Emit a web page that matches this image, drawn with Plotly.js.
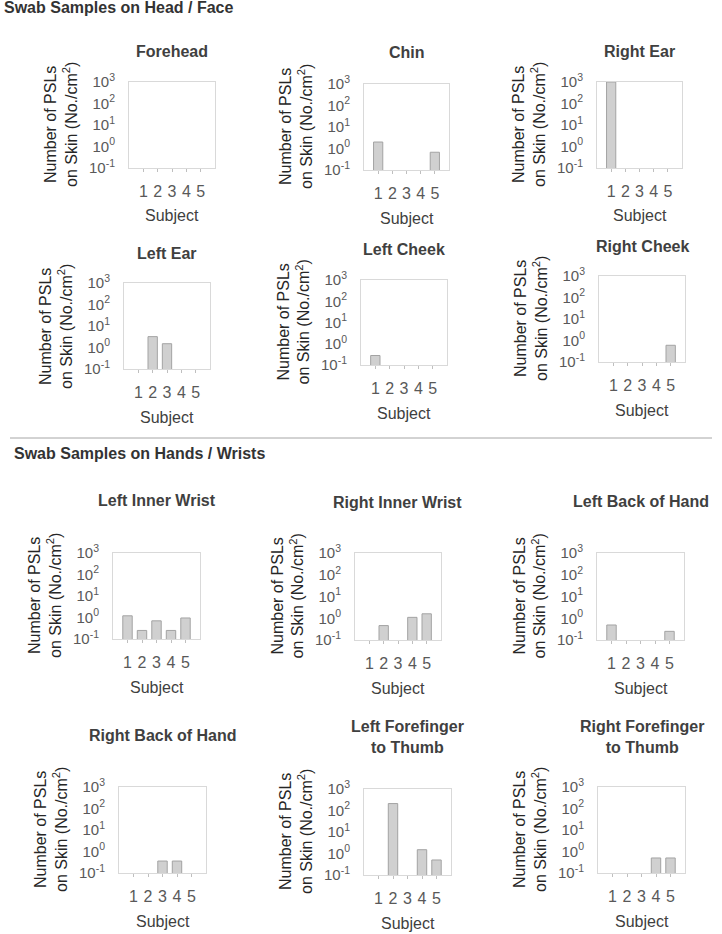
<!DOCTYPE html>
<html>
<head>
<meta charset="utf-8">
<script src="https://cdn.plot.ly/plotly-3.0.1.min.js"></script>
<style>
  html, body { margin: 0; padding: 0; background: #fff; }
  #chart { width: 722px; height: 934px; }
</style>
</head>
<body>
<div id="chart"></div>
<script>
// subjects on the x axis
var subjects = [1, 2, 3, 4, 5];

// PSLs per cm2 (null = no bar)
var forehead        = [null, null, null, null, null];
var chin            = [2.0, null, null, null, 0.67];
var rightEar        = [1000, null, null, null, null];
var leftEar         = [null, 3.2, 1.5, null, null];
var leftCheek       = [0.28, null, null, null, null];
var rightCheek      = [null, null, null, null, 0.6];
var leftInnerWrist  = [1.2, 0.25, 0.7, 0.25, 0.95];
var rightInnerWrist = [null, 0.46, null, 1.1, 1.6];
var leftBackHand    = [0.49, null, null, null, 0.25];
var rightBackHand   = [null, null, 0.36, 0.36, null];
var leftForefinger  = [null, 210, null, 1.5, 0.5];
var rightForefinger = [null, null, null, 0.5, 0.5];

var panelTitles = ['Forehead', 'Chin', 'Right Ear', 'Left Ear', 'Left Cheek', 'Right Cheek',
	'Left Inner Wrist', 'Right Inner Wrist', 'Left Back of Hand',
	'Right Back of Hand', 'Left Forefinger<br>to Thumb', 'Right Forefinger<br>to Thumb'];

var yTickVals = [0.1, 1, 10, 100, 1000];
var yTickText = ['10<sup>-1</sup>', '10<sup>0</sup>', '10<sup>1</sup>', '10<sup>2</sup>', '10<sup>3</sup>'];

var series = [forehead, chin, rightEar, leftEar, leftCheek, rightCheek,
	leftInnerWrist, rightInnerWrist, leftBackHand, rightBackHand, leftForefinger, rightForefinger];

// plot boxes in pixels: left, right, top, bottom, title y
var W = 722, H = 934;
var boxes = [
	[129, 215, 82, 168, 52], [364, 449, 84, 170, 53], [597, 682, 82, 168, 52],
	[124, 210, 283, 369, 253], [361, 447, 280, 365, 249], [599, 685, 276, 362, 246],
	[113, 200, 553, 639, 500], [355, 441, 553, 640, 503], [597, 684, 553, 640, 502],
	[119, 206, 787, 873, 735], [364, 451, 789, 875, 737], [598, 685, 787, 873, 737]
];

var FONT = 'Liberation Sans, Arial, sans-serif';
var data = [];
var layout = {
	width: W, height: H,
	margin: {l: 0, r: 0, t: 0, b: 0},
	paper_bgcolor: '#ffffff',
	plot_bgcolor: '#ffffff',
	showlegend: false,
	font: {family: FONT, size: 15, color: '#595959'},
	annotations: [],
	shapes: []
};

function px(x) { return x / W; }
function py(y) { return 1 - y / H; }

series.forEach(function (vals, i) {
	var n = i === 0 ? '' : String(i + 1);
	var b = boxes[i];
	data.push({
		type: 'bar',
		x: subjects,
		y: vals,
		width: 0.65,
		xaxis: 'x' + n,
		yaxis: 'y' + n,
		marker: {color: '#d0d0d0', line: {color: '#a3a3a3', width: 1}},
		hoverinfo: 'x+y'
	});
	layout['xaxis' + n] = {
		domain: [px(b[0]), px(b[1])],
		anchor: 'y' + n,
		range: [0, 6],
		tickmode: 'array',
		tickvals: subjects,
		ticks: 'outside', ticklen: 3, tickcolor: '#bfbfbf',
		ticklabelstandoff: 6,
		tickfont: {size: 16, color: '#595959'},
		showline: true, mirror: true, linecolor: '#d9d9d9', linewidth: 1,
		showgrid: false, zeroline: false, fixedrange: true
	};
	layout['yaxis' + n] = {
		domain: [py(b[3]), py(b[2])],
		anchor: 'x' + n,
		type: 'log',
		range: [-1, 3],
		tickmode: 'array',
		tickvals: yTickVals,
		ticktext: yTickText,
		ticks: '',
		ticklabelstandoff: 10,
		tickfont: {size: 15, color: '#595959'},
		showline: true, mirror: true, linecolor: '#d9d9d9', linewidth: 1,
		showgrid: false, zeroline: false, fixedrange: true
	};
	var cx = (b[0] + b[1]) / 2;
	// panel title
	layout.annotations.push({
		text: '<b>' + panelTitles[i] + '</b>',
		xref: 'paper', yref: 'paper', x: px(cx), y: py(b[4]),
		xanchor: 'center', yanchor: 'middle', showarrow: false,
		font: {family: FONT, size: 16, color: '#404040'}
	});
	// y title
	layout.annotations.push({
		text: 'Number of PSLs<br>on Skin (No./cm<sup>2</sup>)',
		xref: 'paper', yref: 'paper', x: px(b[0] - 68), y: py((b[2] + b[3]) / 2),
		xanchor: 'center', yanchor: 'middle', showarrow: false, textangle: -90,
		font: {family: FONT, size: 16, color: '#262626'}
	});
	// x title
	layout.annotations.push({
		text: 'Subject',
		xref: 'paper', yref: 'paper', x: px(cx), y: py(b[3] + 48),
		xanchor: 'center', yanchor: 'middle', showarrow: false,
		font: {family: FONT, size: 16, color: '#404040'}
	});
});

// section headings and divider
layout.annotations.push({
	text: '<b>Swab Samples on Head / Face</b>',
	xref: 'paper', yref: 'paper', x: px(2), y: py(8),
	xanchor: 'left', yanchor: 'middle', showarrow: false,
	font: {family: FONT, size: 16, color: '#333333'}
});
layout.annotations.push({
	text: '<b>Swab Samples on Hands / Wrists</b>',
	xref: 'paper', yref: 'paper', x: px(12), y: py(453),
	xanchor: 'left', yanchor: 'middle', showarrow: false,
	font: {family: FONT, size: 16, color: '#333333'}
});
layout.shapes.push({
	type: 'line', xref: 'paper', yref: 'paper',
	x0: px(10), x1: px(712), y0: py(438), y1: py(438),
	line: {color: '#a6a6a6', width: 1}
});

Plotly.newPlot('chart', data, layout, {displayModeBar: false, staticPlot: true});
</script>
</body>
</html>
